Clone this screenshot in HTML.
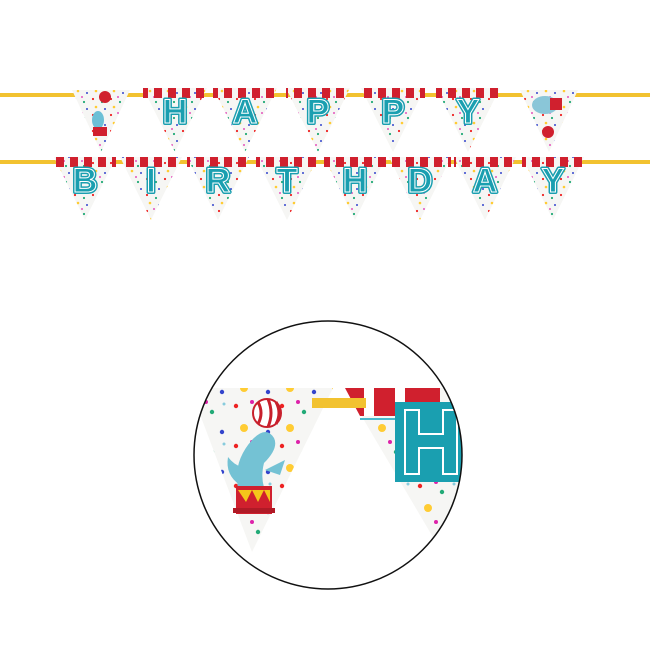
<!DOCTYPE html>
<html><head><style>html,body{margin:0;padding:0;background:#fff}svg{display:block}
.a text{paint-order:stroke}
</style></head>
<body>
<svg width="650" height="650" viewBox="0 0 650 650" xmlns="http://www.w3.org/2000/svg">
<defs>
<pattern id="st" width="14" height="12" patternUnits="userSpaceOnUse"><rect width="8" height="12" fill="#d0202e"/></pattern>
<pattern id="dots" width="18" height="16" patternUnits="userSpaceOnUse">
<circle cx="3" cy="3" r="1.1" fill="#e22"/><circle cx="12" cy="6" r="1.1" fill="#2a7"/><circle cx="6" cy="11" r="1.3" fill="#fc3"/><circle cx="15" cy="13" r="1" fill="#34c"/><circle cx="10" cy="1" r="0.9" fill="#d2a"/></pattern>
<pattern id="dots2" width="46" height="40" patternUnits="userSpaceOnUse">
<circle cx="6" cy="6" r="2.2" fill="#e22"/><circle cx="28" cy="12" r="2.2" fill="#2a7"/><circle cx="14" cy="28" r="4" fill="#fc3"/><circle cx="38" cy="32" r="2.2" fill="#34c"/><circle cx="22" cy="2" r="2" fill="#d2a"/><circle cx="40" cy="4" r="1.5" fill="#8cd"/></pattern>
</defs>
<rect x="0" y="93" width="650" height="4" fill="#f2c230"/>
<rect x="0" y="160" width="650" height="4" fill="#f2c230"/>
<g>
<polygon points="72,90 130,90 101,152" fill="#f6f6f4"/><polygon points="72,90 130,90 101,152" fill="url(#dots)"/>
<circle cx="105" cy="97" r="6" fill="#d0202e"/><ellipse cx="98" cy="120" rx="6" ry="9" fill="#6cc0d6"/><rect x="93" y="127" width="14" height="9" fill="#d0202e"/>
<polygon points="143,88 207,88 175,152" fill="#f6f6f4"/><polygon points="143,88 207,88 175,152" fill="url(#dots)"/><rect x="143" y="88" width="64" height="10" fill="url(#st)"/>
<polygon points="213,88 277,88 245,152" fill="#f6f6f4"/><polygon points="213,88 277,88 245,152" fill="url(#dots)"/><rect x="213" y="88" width="64" height="10" fill="url(#st)"/>
<polygon points="286,88 350,88 318,152" fill="#f6f6f4"/><polygon points="286,88 350,88 318,152" fill="url(#dots)"/><rect x="286" y="88" width="64" height="10" fill="url(#st)"/>
<polygon points="361,88 425,88 393,152" fill="#f6f6f4"/><polygon points="361,88 425,88 393,152" fill="url(#dots)"/><rect x="361" y="88" width="64" height="10" fill="url(#st)"/>
<polygon points="436,88 500,88 468,152" fill="#f6f6f4"/><polygon points="436,88 500,88 468,152" fill="url(#dots)"/><rect x="436" y="88" width="64" height="10" fill="url(#st)"/>
<polygon points="520,90 578,90 549,152" fill="#f6f6f4"/><polygon points="520,90 578,90 549,152" fill="url(#dots)"/>
<ellipse cx="545" cy="105" rx="13" ry="9" fill="#8ac6d8"/><rect x="550" y="98" width="12" height="12" fill="#d0202e"/><circle cx="548" cy="132" r="6" fill="#d0202e"/>
<polygon points="54,157 116,157 85,220" fill="#f6f6f4"/><polygon points="54,157 116,157 85,220" fill="url(#dots)"/><rect x="54" y="157" width="62" height="10" fill="url(#st)"/>
<polygon points="120,157 182,157 151,220" fill="#f6f6f4"/><polygon points="120,157 182,157 151,220" fill="url(#dots)"/><rect x="120" y="157" width="62" height="10" fill="url(#st)"/>
<polygon points="187,157 249,157 218,220" fill="#f6f6f4"/><polygon points="187,157 249,157 218,220" fill="url(#dots)"/><rect x="187" y="157" width="62" height="10" fill="url(#st)"/>
<polygon points="256,157 318,157 287,220" fill="#f6f6f4"/><polygon points="256,157 318,157 287,220" fill="url(#dots)"/><rect x="256" y="157" width="62" height="10" fill="url(#st)"/>
<polygon points="324,157 386,157 355,220" fill="#f6f6f4"/><polygon points="324,157 386,157 355,220" fill="url(#dots)"/><rect x="324" y="157" width="62" height="10" fill="url(#st)"/>
<polygon points="389,157 451,157 420,220" fill="#f6f6f4"/><polygon points="389,157 451,157 420,220" fill="url(#dots)"/><rect x="389" y="157" width="62" height="10" fill="url(#st)"/>
<polygon points="454,157 516,157 485,220" fill="#f6f6f4"/><polygon points="454,157 516,157 485,220" fill="url(#dots)"/><rect x="454" y="157" width="62" height="10" fill="url(#st)"/>
<polygon points="522,157 584,157 553,220" fill="#f6f6f4"/><polygon points="522,157 584,157 553,220" fill="url(#dots)"/><rect x="522" y="157" width="62" height="10" fill="url(#st)"/>
</g>
<g font-family="Liberation Sans, sans-serif" font-weight="bold" font-size="34" fill="#1a9fb0" stroke="#1a9fb0" stroke-width="4" stroke-linejoin="round" text-anchor="middle">
<text x="175" y="123">H</text><text x="245" y="123">A</text><text x="318" y="123">P</text><text x="393" y="123">P</text><text x="468" y="123">Y</text>
<text x="85" y="192">B</text><text x="151" y="192">I</text><text x="218" y="192">R</text><text x="287" y="192">T</text><text x="355" y="192">H</text><text x="420" y="192">D</text><text x="485" y="192">A</text><text x="553" y="192">Y</text>
</g>
<g font-family="Liberation Sans, sans-serif" font-weight="bold" font-size="34" fill="none" stroke="#fff" stroke-width="1" text-anchor="middle">
<text x="175" y="123">H</text><text x="245" y="123">A</text><text x="318" y="123">P</text><text x="393" y="123">P</text><text x="468" y="123">Y</text>
<text x="85" y="192">B</text><text x="151" y="192">I</text><text x="218" y="192">R</text><text x="287" y="192">T</text><text x="355" y="192">H</text><text x="420" y="192">D</text><text x="485" y="192">A</text><text x="553" y="192">Y</text>
</g>
<clipPath id="cc"><circle cx="328" cy="455" r="134"/></clipPath>
<g clip-path="url(#cc)">
<polygon points="190,388 333,388 252,552" fill="#f6f6f4"/><polygon points="190,388 333,388 252,552" fill="url(#dots2)"/>
<polygon points="345,388 470,388 470,600" fill="#f6f6f4"/><polygon points="345,388 470,388 470,600" fill="url(#dots2)"/>
<polygon points="345,388 440,388 440,416 360,416" fill="#d0202e"/>
<rect x="364" y="388" width="10" height="28" fill="#fff"/><rect x="395" y="388" width="10" height="28" fill="#fff"/>
<rect x="360" y="418" width="40" height="2" fill="#4bb8cc"/>
<rect x="395" y="402" width="70" height="80" fill="#1a9fb0"/>
<path d="M405 410 h14 v24 h24 v-24 h14 v64 h-14 v-26 h-24 v26 h-14 z" fill="none" stroke="#fff" stroke-width="2"/>
<rect x="312" y="398" width="54" height="10" fill="#f2c230"/>
<circle cx="267" cy="413" r="14" fill="#fff" stroke="#c8202c" stroke-width="2"/>
<path d="M258 402 q6 11 0 22 M268 399 q6 14 0 28 M276 402 q6 11 0 22" stroke="#c8202c" stroke-width="3" fill="none"/>
<path d="M240 495 q-10 -30 12 -55 q14 -15 22 -2 q5 10 -10 25 q-5 20 5 35 z" fill="#74c2d4"/>
<path d="M240 485 q-15 -10 -12 -28 q6 8 14 10 z" fill="#74c2d4"/>
<path d="M265 470 l20 -10 l-5 15 z" fill="#74c2d4"/>
<rect x="236" y="486" width="36" height="28" fill="#d0202e"/>
<polygon points="238,490 246,502 252,490 258,502 264,490 270,502 270,490" fill="#f5c61a"/>
<rect x="233" y="508" width="42" height="5" fill="#b01a26"/>
</g>
<circle cx="328" cy="455" r="134" fill="none" stroke="#111" stroke-width="1.5"/>
</svg>
</body></html>
